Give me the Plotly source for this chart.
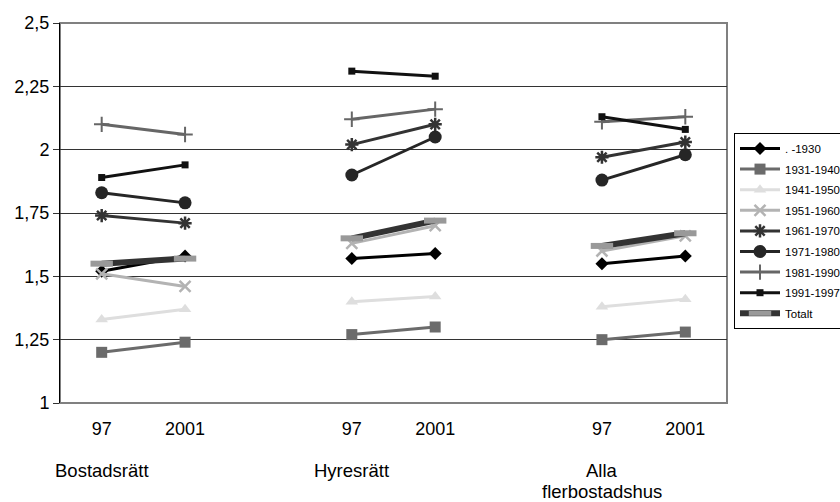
import plotly.graph_objects as go

# ---- data ----
x_pos = [0, 1, 3, 4, 6, 7]
x_labels = ["97", "2001", "97", "2001", "97", "2001"]
groups = ["Bostadsrätt", "Hyresrätt", "Alla", "flerbostadshus"]
y_ticks = [1, 1.25, 1.5, 1.75, 2, 2.25, 2.5]
y_ticklabels = ["1", "1,25", "1,5", "1,75", "2", "2,25", "2,5"]

series_names = [". -1930", "1931-1940", "1941-1950", "1951-1960", "1961-1970",
                "1971-1980", "1981-1990", "1991-1997", "Totalt"]

v_1930 = [1.52, 1.58, 1.57, 1.59, 1.55, 1.58]
v_1931_1940 = [1.20, 1.24, 1.27, 1.30, 1.25, 1.28]
v_1941_1950 = [1.33, 1.37, 1.40, 1.42, 1.38, 1.41]
v_1951_1960 = [1.51, 1.46, 1.63, 1.70, 1.60, 1.66]
v_1961_1970 = [1.74, 1.71, 2.02, 2.10, 1.97, 2.03]
v_1971_1980 = [1.83, 1.79, 1.90, 2.05, 1.88, 1.98]
v_1981_1990 = [2.10, 2.06, 2.12, 2.16, 2.11, 2.13]
v_1991_1997 = [1.89, 1.94, 2.31, 2.29, 2.13, 2.08]
v_totalt = [1.55, 1.57, 1.65, 1.72, 1.62, 1.67]

values = [v_1930, v_1931_1940, v_1941_1950, v_1951_1960, v_1961_1970,
          v_1971_1980, v_1981_1990, v_1991_1997, v_totalt]

# ---- styles ----
styles = [
    dict(lc="#000000", lw=3, sym="diamond", ms=10, mc="#000000", mlw=0),
    dict(lc="#6b6b6b", lw=3, sym="square", ms=11, mc="#6b6b6b", mlw=0),
    dict(lc="#dedede", lw=3, sym="triangle-up", ms=11, mc="#dedede", mlw=0),
    dict(lc="#b3b3b3", lw=3, sym="x-thin-open", ms=11, mc="#b3b3b3", mlw=2.5),
    dict(lc="#333333", lw=3, sym="asterisk-open", ms=11, mc="#333333", mlw=2.5),
    dict(lc="#262626", lw=3, sym="circle", ms=13, mc="#262626", mlw=0),
    dict(lc="#666666", lw=3, sym="cross-thin-open", ms=11, mc="#666666", mlw=2),
    dict(lc="#111111", lw=3, sym="square", ms=7, mc="#111111", mlw=0),
    dict(lc="#333333", lw=6, sym="line-ew-open", ms=16, mc="#999999", mlw=6),
]

fig = go.Figure()
for i, (name, vals, st) in enumerate(zip(series_names, values, styles)):
    for g in range(3):
        xs = x_pos[2 * g:2 * g + 2]
        ys = vals[2 * g:2 * g + 2]
        fig.add_trace(go.Scatter(
            x=xs, y=ys, mode="lines+markers", name=name,
            legendgroup=name, showlegend=(g == 0),
            line=dict(color=st["lc"], width=st["lw"]),
            marker=dict(symbol=st["sym"], size=st["ms"], color=st["mc"],
                        line=dict(color=st["mc"], width=st["mlw"])),
        ))

font_family = "Arial, Liberation Sans, sans-serif"

# plot border
fig.add_shape(type="rect", xref="paper", yref="paper", x0=0, y0=0, x1=1, y1=1,
              line=dict(color="#808080", width=2), layer="below")

annots = [
    dict(x=0, text=groups[0], py=470),
    dict(x=3, text=groups[1], py=470),
    dict(x=6, text=groups[2], py=470),
    dict(x=6, text=groups[3], py=491),
]
for a in annots:
    fig.add_annotation(x=a["x"], xref="x", y=(403 - a["py"]) / 380, yref="paper",
                       text=a["text"], showarrow=False, xanchor="center", yanchor="middle",
                       font=dict(family=font_family, size=18.5, color="#000"))

fig.update_layout(
    width=840, height=502,
    margin=dict(l=60, r=113, t=23, b=99, autoexpand=False),
    paper_bgcolor="white", plot_bgcolor="white",
    font=dict(family=font_family, size=18, color="#000"),
    showlegend=True,
    legend=dict(x=(734 - 60) / 667, y=(403 - 133) / 380, xanchor="left", yanchor="top",
                bordercolor="#000", borderwidth=1, bgcolor="white",
                font=dict(family=font_family, size=11.5, color="#000"),
                tracegroupgap=1.6, traceorder="grouped", itemwidth=40),
    xaxis=dict(range=[-0.5, 7.5], tickmode="array", tickvals=x_pos, ticktext=x_labels,
               showgrid=False, zeroline=False, showline=False, ticks="",
               ticklabelstandoff=13, tickfont=dict(size=18)),
    yaxis=dict(range=[1, 2.5], tickmode="array", tickvals=y_ticks, ticktext=y_ticklabels,
               showgrid=True, gridcolor="#333333", gridwidth=1, zeroline=False,
               showline=True, linecolor="#000", linewidth=1,
               ticks="outside", ticklen=6, tickcolor="#333", tickfont=dict(size=18)),
)

fig.write_html("out.html")
